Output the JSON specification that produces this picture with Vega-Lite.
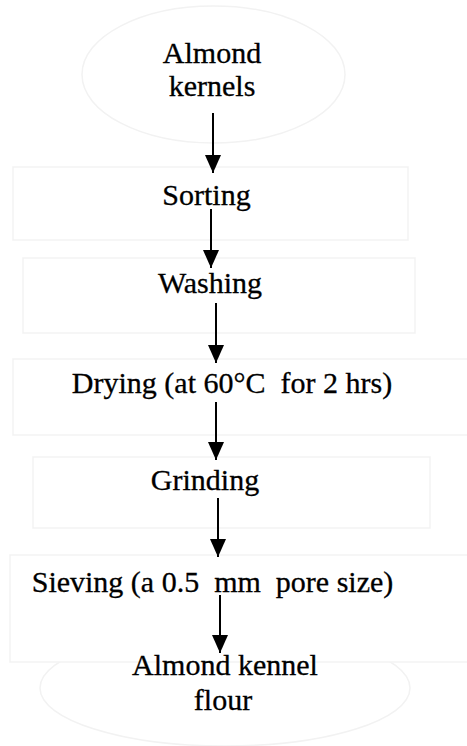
{
  "$schema": "https://vega.github.io/schema/vega-lite/v6.json",
  "width": 467,
  "height": 746,
  "padding": 0,
  "autosize": {"type": "none"},
  "background": "white",
  "config": {"view": {"stroke": null}},
  "datasets": {
    "boxes": [
      {"step": "Sorting", "x1": 13, "x2": 408, "y1": 167, "y2": 240},
      {"step": "Washing", "x1": 23, "x2": 415, "y1": 258, "y2": 333},
      {"step": "Drying", "x1": 13, "x2": 470, "y1": 359, "y2": 435},
      {"step": "Grinding", "x1": 33, "x2": 430, "y1": 457, "y2": 528},
      {"step": "Sieving", "x1": 10, "x2": 470, "y1": 555, "y2": 662}
    ],
    "ellipseTop": [{"step": "Almond kernels", "cx": 213.5, "cy": 74.5}],
    "ellipseBottom": [{"step": "Almond kennel flour", "cx": 225, "cy": 688}],
    "labels": [
      {"text": "Almond", "x": 212, "y": 63},
      {"text": "kernels", "x": 212, "y": 96},
      {"text": "Sorting", "x": 206.5, "y": 205},
      {"text": "Washing", "x": 210, "y": 293},
      {"text": "Drying (at 60°C\u00a0 for 2 hrs)", "x": 232, "y": 393},
      {"text": "Grinding", "x": 205, "y": 490},
      {"text": "Sieving (a 0.5\u00a0 mm\u00a0 pore size)", "x": 212.5, "y": 592},
      {"text": "Almond kennel", "x": 225, "y": 675},
      {"text": "flour", "x": 223, "y": 710}
    ],
    "arrows": [
      {"x": 213, "start": 113, "tip": 173},
      {"x": 211, "start": 209, "tip": 268},
      {"x": 216, "start": 303, "tip": 363},
      {"x": 216, "start": 402, "tip": 460},
      {"x": 218, "start": 498, "tip": 557},
      {"x": 220, "start": 595, "tip": 653}
    ]
  },
  "layer": [
    {
      "data": {"name": "ellipseTop"},
      "mark": {
        "type": "point",
        "shape": "M-1,0C-1,-0.2877,-0.5523,-0.521,0,-0.521C0.5523,-0.521,1,-0.2877,1,0C1,0.2877,0.5523,0.521,0,0.521C-0.5523,0.521,-1,0.2877,-1,0Z",
        "size": 69169,
        "filled": false,
        "stroke": "#f2f2f2",
        "strokeWidth": 1.5,
        "opacity": 1
      },
      "encoding": {
        "x": {"field": "cx", "type": "quantitative", "scale": {"domain": [0, 467], "nice": false, "zero": false}, "axis": null},
        "y": {"field": "cy", "type": "quantitative", "scale": {"domain": [0, 746], "nice": false, "zero": false, "reverse": true}, "axis": null}
      }
    },
    {
      "data": {"name": "ellipseBottom"},
      "mark": {
        "type": "point",
        "shape": "M-1,0C-1,-0.1731,-0.5523,-0.3135,0,-0.3135C0.5523,-0.3135,1,-0.1731,1,0C1,0.1731,0.5523,0.3135,0,0.3135C-0.5523,0.3135,-1,0.1731,-1,0Z",
        "size": 136900,
        "filled": false,
        "stroke": "#f2f2f2",
        "strokeWidth": 1.5,
        "opacity": 1
      },
      "encoding": {
        "x": {"field": "cx", "type": "quantitative", "scale": {"domain": [0, 467], "nice": false, "zero": false}, "axis": null},
        "y": {"field": "cy", "type": "quantitative", "scale": {"domain": [0, 746], "nice": false, "zero": false, "reverse": true}, "axis": null}
      }
    },
    {
      "data": {"name": "boxes"},
      "mark": {"type": "rect", "fill": "white", "stroke": "#f3f3f3", "strokeWidth": 1.5},
      "encoding": {
        "x": {"field": "x1", "type": "quantitative", "scale": {"domain": [0, 467], "nice": false, "zero": false}, "axis": null},
        "x2": {"field": "x2"},
        "y": {"field": "y1", "type": "quantitative", "scale": {"domain": [0, 746], "nice": false, "zero": false, "reverse": true}, "axis": null},
        "y2": {"field": "y2"}
      }
    },
    {
      "data": {"name": "labels"},
      "mark": {"type": "text", "font": "Liberation Serif", "fontSize": 30, "align": "center", "baseline": "alphabetic", "color": "black", "stroke": "black", "strokeWidth": 0.3},
      "encoding": {
        "x": {"field": "x", "type": "quantitative", "scale": {"domain": [0, 467], "nice": false, "zero": false}, "axis": null},
        "y": {"field": "y", "type": "quantitative", "scale": {"domain": [0, 746], "nice": false, "zero": false, "reverse": true}, "axis": null},
        "text": {"field": "text"}
      }
    },
    {
      "data": {"name": "arrows"},
      "mark": {"type": "rule", "color": "black", "strokeWidth": 2},
      "encoding": {
        "x": {"field": "x", "type": "quantitative", "scale": {"domain": [0, 467], "nice": false, "zero": false}, "axis": null},
        "y": {"field": "start", "type": "quantitative", "scale": {"domain": [0, 746], "nice": false, "zero": false, "reverse": true}, "axis": null},
        "y2": {"field": "tip"}
      }
    },
    {
      "data": {"name": "arrows"},
      "mark": {"type": "point", "shape": "M-0.889,-1L0.889,-1L0,1Z", "size": 324, "filled": true, "color": "black", "opacity": 1, "yOffset": -9},
      "encoding": {
        "x": {"field": "x", "type": "quantitative", "scale": {"domain": [0, 467], "nice": false, "zero": false}, "axis": null},
        "y": {"field": "tip", "type": "quantitative", "scale": {"domain": [0, 746], "nice": false, "zero": false, "reverse": true}, "axis": null}
      }
    }
  ]
}
